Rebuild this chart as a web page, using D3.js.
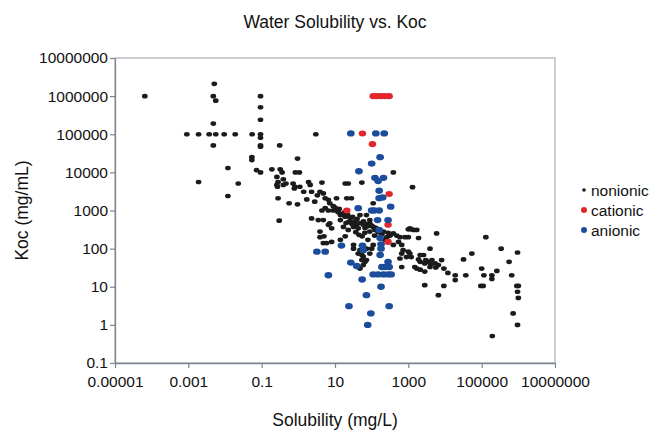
<!DOCTYPE html>
<html>
<head>
<meta charset="utf-8">
<script src="https://cdn.jsdelivr.net/npm/d3@7"></script>
<style>
    body { margin: 0; background: #fff; }
    svg { font-family: "Liberation Sans", Arial, sans-serif; }
</style>
</head>
<body>
<div id="container"></div>
<script>
// Solubility (mg/L), Koc (mg/mL) pairs
const nonionic = [
    [6.5e-5, 1.0e6], [5.1e-3, 2.1e6], [4.8e-3, 1.0e6], [5.6e-3, 7.6e5], [4.8e-3, 1.9e5], [4.8e-3, 5.1e4],
    [9.1e-4, 1.0e5], [1.9e-3, 1.0e5], [3.7e-3, 1.0e5], [5.6e-3, 1.0e5], [9.5e-3, 1.0e5], [1.9e-2, 1.0e5],
    [5.5e-2, 1.0e5], [9.3e-2, 1.0e5], [3.0, 1.0e5],
    [9.3e-2, 1.0e6], [9.3e-2, 5.1e5], [9.3e-2, 2.4e5], [9.3e-2, 8.1e4], [9.3e-2, 5.1e4], [9.3e-2, 4.7e4],
    [0.31, 5.1e4], [5.4e-2, 2.5e4], [5.4e-2, 2.1e4], [1.2e-2, 1.3e4], [7.2e-2, 1.15e4], [9.3e-2, 1.0e4],
    [0.19, 1.2e4], [0.32, 1.2e4], [0.36, 1.0e4], [0.95, 2.3e4], [0.83, 1.0e4], [1.07, 1.0e4],
    [1.9e-3, 5.6e3], [2.3e-2, 5.1e3], [1.2e-2, 2.4e3],
    [0.26, 7.6e3], [0.28, 5.6e3], [0.39, 6.6e3], [0.26, 4.7e3], [0.39, 4.7e3], [0.72, 5.1e3],
    [0.81, 4.2e3], [1.1, 4.2e3], [1.9, 5.6e3], [2.1, 4.7e3], [1.4, 3.1e3], [2.3, 3.1e3],
    [4.4, 5.4e3], [3.9, 3.1e3], [4.8, 2.8e3], [3.3, 2.5e3], [5.4, 2.1e3], [6.6, 1.9e3],
    [7.2, 1.55e3], [4.4, 1.0e3], [5.4, 1.15e3], [6.6, 1.0e3], [8.9, 1.0e3], [12, 1.0e3],
    [11, 2.1e3], [19, 5.1e3], [23, 5.1e3], [21, 2.1e3], [28, 2.1e3], [17, 7.6e2],
    [23, 5.0e2], [4.8, 5.6e2], [7.2, 4.6e2], [2.3, 6.2e2], [3.5, 5.6e2], [0.28, 2.1e3],
    [0.56, 1.55e3], [0.95, 1.45e3], [0.30, 5.4e2], [1.7, 1.95e3], [2.8, 1.7e3], [0.27, 4.2e3],
    [0.46, 5.1e3], [0.78, 3.8e3],
    [390, 1.0e4], [54, 5.4e3], [1.3e3, 4.1e3], [110, 1.55e3], [48, 7.6e2], [72, 7.6e2],
    [89, 5.6e2], [19, 6.9e2], [26, 5.0e2], [32, 3.7e2], [39, 4.2e2], [14, 7.6e2],
    [1.0e3, 3.2e2], [1.2e3, 3.2e2],
    [5.0, 2.1e2], [5.9, 1.4e2], [8.1, 1.5e2], [3.9, 2.8e2], [6.6, 4.2e2], [8.1, 3.4e2],
    [17, 3.7e2], [23, 3.1e2], [43, 3.4e2], [59, 4.2e2], [89, 4.6e2], [110, 3.7e2],
    [89, 2.8e2], [123, 3.1e2], [32, 1.0e2], [43, 74], [54, 68], [72, 1.0e2],
    [89, 74], [100, 1.0e2], [110, 1.25e2], [32, 1.25e2], [54, 50], [66, 45], [43, 33],
    [260, 2.0e2], [320, 2.2e2], [390, 2.5e2], [480, 2.2e2], [590, 2.0e2], [810, 2.0e2],
    [1.0e3, 2.0e2], [390, 1.25e2], [540, 1.5e2], [660, 1.25e2], [720, 91], [1.0e3, 83],
    [1.1e3, 74], [1.4e3, 3.1e2], [1.7e3, 3.1e2], [1.9e3, 1.9e2], [660, 74], [590, 55],
    [890, 60], [1.2e3, 60], [2.1e3, 68], [2.6e3, 68], [3.9e3, 1.0e2], [5.9e3, 2.5e2],
    [2.1e3, 45], [2.8e3, 41], [3.5e3, 45], [4.4e3, 50], [5.4e3, 41], [6.6e3, 37],
    [2.1e3, 28], [2.8e3, 25], [3.9e3, 33], [660, 33], [1.5e3, 33], [2.8e3, 11], [6.6e3, 6.0],
    [1.3e5, 2.0e2], [3.4e5, 1.0e2], [9.5e5, 79], [5.6e5, 45], [5.4e4, 74], [3.2e4, 52],
    [1.0e5, 30], [1.15e5, 20], [1.9e5, 20], [2.6e5, 26], [1.9e5, 16], [6.6e5, 20],
    [9.1e5, 10.5], [1.0e6, 10.5], [9.5e5, 7.4], [1.0e6, 5.1], [7.2e5, 2.0], [9.5e5, 1.0],
    [1.95e5, 0.51], [9.5e4, 10.5], [1.1e5, 10.5], [9.3e3, 10.5], [3.7e4, 20], [1.9e4, 20],
    [1.9e4, 15], [1.2e4, 23], [9.3e3, 30], [5.6e3, 32], [4.1e3, 39], [8.1e3, 50],
    [3.0e3, 50], [1.9e3, 52], [1.7e3, 30], [1.1e3, 3.4e2], [4.8, 1.4e2], [3.9, 2.0e2],
    [48, 91], [59, 62], [48, 30], [59, 37], [72, 50],
    [10, 1.2e3], [12, 9.1e2], [15.5, 8.1e2], [26, 6.3e2], [35, 5.2e2], [48, 4.7e2],
    [66, 3.5e2], [150, 2.7e2], [190, 2.4e2], [14, 5.6e2], [20, 4.7e2], [29, 4.4e2],
    [81, 3.9e2], [37, 2.7e2], [55, 2.1e2], [19, 2.1e2], [14, 1.7e2], [79, 1.7e2], [230, 1.7e2],
    [9.0, 1.3e3], [13, 1.1e3], [18, 9.0e2], [22, 7.8e2], [30, 6.8e2], [40, 6.0e2],
    [60, 5.2e2], [75, 4.4e2], [100, 4.0e2], [130, 3.5e2], [170, 3.0e2], [210, 2.8e2],
    [65, 2.6e2], [45, 2.3e2], [120, 2.2e2], [280, 2.6e2]
];

const cationic = [
    [110, 1.0e6], [140, 1.0e6], [180, 1.0e6], [230, 1.0e6], [300, 1.0e6],
    [56, 1.05e5], [105, 5.5e4], [300, 2.7e3], [21, 1.0e3], [280, 4.2e2], [280, 1.5e2]
];

const anionic = [
    [27, 1.05e5], [130, 1.05e5], [220, 1.05e5], [170, 2.5e4], [100, 1.7e4], [45, 1.07e4],
    [123, 7.2e3], [150, 5.9e3], [210, 7.2e3], [160, 3.3e3], [160, 2.1e3], [200, 2.2e3],
    [330, 1.26e3], [43, 1.15e3], [100, 1.0e3], [117, 1.0e3], [160, 1.0e3], [145, 5.6e2],
    [280, 5.6e2], [160, 3.1e2], [170, 1.9e2], [180, 1.3e2], [170, 68], [3.2, 83],
    [5.4, 83], [6.6, 20], [15, 1.2e2], [56, 1.2e2], [59, 91], [280, 45], [27, 43],
    [39, 35], [190, 33], [230, 33], [300, 33], [110, 21], [150, 21], [210, 21],
    [280, 21], [340, 21], [55, 15.5], [180, 10], [72, 6.0], [24, 3.1], [300, 3.1],
    [95, 2.0], [78, 1.0], [180, 1.0e2]
];

const xTicks = [1e-5, 1e-3, 1e-1, 1e1, 1e3, 1e5, 1e7];
const xTickLabels = ["0.00001", "0.001", "0.1", "10", "1000", "100000", "10000000"];
const yTicks = [1e-1, 1, 1e1, 1e2, 1e3, 1e4, 1e5, 1e6, 1e7];
const yTickLabels = ["0.1", "1", "10", "100", "1000", "10000", "100000", "1000000", "10000000"];

const series = [
    { name: "nonionic", data: nonionic, color: "#1b1b1b", r: 2.6, legendR: 1.8 },
    { name: "cationic", data: cationic, color: "#e3262b", r: 3.4, legendR: 3 },
    { name: "anionic", data: anionic, color: "#1c4d9c", r: 3.5, legendR: 3 }
];

const width = 653;
const height = 431;
const marginTop = 58;
const marginRight = 98;
const marginBottom = 68;
const marginLeft = 115;

const x = d3.scaleLog()
    .domain([1e-5, 1e7])
    .range([marginLeft, width - marginRight]);

const y = d3.scaleLog()
    .domain([0.1, 1e7])
    .range([height - marginBottom, marginTop]);

const svg = d3.select("#container").append("svg")
    .attr("width", width)
    .attr("height", height)
    .attr("viewBox", `0 0 ${width} ${height}`);

// plot area frame (top and right edges)
svg.append("rect")
    .attr("x", marginLeft)
    .attr("y", marginTop)
    .attr("width", width - marginRight - marginLeft)
    .attr("height", height - marginBottom - marginTop)
    .attr("fill", "none")
    .attr("stroke", "#a9adb3")
    .attr("stroke-width", 1.2);

// x-axis
const xAxis = svg.append("g")
    .attr("transform", `translate(0,${height - marginBottom})`)
    .call(d3.axisBottom(x)
        .tickValues(xTicks)
        .tickFormat((d, i) => xTickLabels[i])
        .tickSize(5)
        .tickSizeOuter(0));

// y-axis
const yAxis = svg.append("g")
    .attr("transform", `translate(${marginLeft},0)`)
    .call(d3.axisLeft(y)
        .tickValues(yTicks)
        .tickFormat((d, i) => yTickLabels[i])
        .tickSize(5)
        .tickSizeOuter(0));

[xAxis, yAxis].forEach(ax => {
    ax.select(".domain").attr("stroke", "#7d8590").attr("stroke-width", 1.3);
    ax.selectAll(".tick line").attr("stroke", "#7d8590").attr("stroke-width", 1.2);
    ax.selectAll(".tick text")
        .attr("fill", "#111")
        .style("font-size", "15.5px")
        .style("font-family", "'Liberation Sans', Arial, sans-serif");
});
xAxis.selectAll(".tick text").attr("dy", "1.05em");
yAxis.selectAll(".tick text").attr("x", -7);

// points
series.forEach(s => {
    svg.append("g")
        .selectAll("ellipse")
        .data(s.data)
        .join("ellipse")
        .attr("cx", d => x(d[0]))
        .attr("cy", d => y(d[1]))
        .attr("rx", s.r * 1.1)
        .attr("ry", s.r * 0.9)
        .attr("fill", s.color);
});

// title and axis labels
svg.append("text")
    .attr("x", 335)
    .attr("y", 28)
    .attr("text-anchor", "middle")
    .style("font-size", "17.5px")
    .attr("fill", "#111")
    .text("Water Solubility vs. Koc");

svg.append("text")
    .attr("x", 335)
    .attr("y", 426)
    .attr("text-anchor", "middle")
    .style("font-size", "17.5px")
    .attr("fill", "#111")
    .text("Solubility (mg/L)");

svg.append("text")
    .attr("transform", `translate(28,${(marginTop + height - marginBottom) / 2}) rotate(-90)`)
    .attr("text-anchor", "middle")
    .style("font-size", "17.5px")
    .attr("fill", "#111")
    .text("Koc (mg/mL)");

// legend
const legend = svg.append("g")
    .attr("transform", "translate(584,190)");

series.forEach((s, i) => {
    const row = legend.append("g").attr("transform", `translate(0,${i * 20})`);
    row.append("circle")
        .attr("cx", 0)
        .attr("cy", 0)
        .attr("r", s.legendR)
        .attr("fill", s.color);
    row.append("text")
        .attr("x", 7)
        .attr("y", 5.5)
        .style("font-size", "15.5px")
        .attr("fill", "#111")
        .text(s.name);
});
</script>
</body>
</html>
